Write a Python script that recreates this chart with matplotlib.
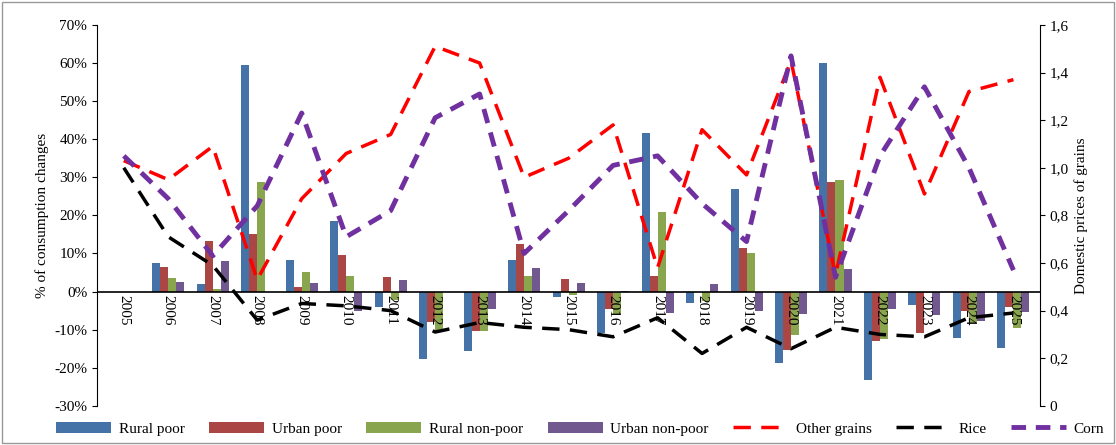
import matplotlib.pyplot as plt
import numpy as np

plt.rcParams['font.family'] = ['Liberation Serif', 'DejaVu Serif']

years = [str(y) for y in range(2005, 2026)]
rural_poor = [0, 7.6, 2, 59.5, 8.2, 18.5, -4, -17.7, -15.6, 8.4, -1.3, -11, 41.5, -3, 27, -18.7, 60, -23.2, -3.5, -12.3, -14.8]
urban_poor = [0, 6.5, 13.3, 15, 1.2, 9.6, 3.8, -8, -10.3, 12.6, 3.3, -4.5, 4.2, 0, 11.4, -15.3, 28.8, -13, -11, -5, -4]
rural_nonpoor = [0, 3.6, 0.8, 28.7, 5.2, 4.1, -2.3, -10.3, -10.3, 4.1, -0.9, -5.8, 21, -2.5, 10, -11.3, 29.4, -12.5, -0.5, -8.3, -9.6]
urban_nonpoor = [0, 2.5, 8, 0, 2.3, -5, 3.1, 0, -4.5, 6.3, 2.3, 0.2, -5.6, 2.1, -5, -6, 5.8, -4.6, -6.2, -7.6, -5.4]
other_grains = [1.03, 0.95, 1.09, 0.53, 0.87, 1.06, 1.14, 1.51, 1.44, 0.96, 1.04, 1.18, 0.58, 1.16, 0.97, 1.45, 0.55, 1.38, 0.89, 1.32, 1.37]
rice = [1.0, 0.71, 0.59, 0.36, 0.43, 0.42, 0.40, 0.31, 0.35, 0.33, 0.32, 0.29, 0.37, 0.22, 0.33, 0.24, 0.33, 0.30, 0.29, 0.37, 0.39]
corn = [1.05, 0.87, 0.63, 0.84, 1.23, 0.71, 0.82, 1.21, 1.31, 0.64, 0.82, 1.01, 1.05, 0.85, 0.69, 1.47, 0.54, 1.05, 1.34, 1.0, 0.57]

fig = plt.figure(figsize=(11.16, 4.45), dpi=100)
ax = fig.add_axes([0.087, 0.088, 0.845, 0.856])
x = np.arange(len(years))
w = 0.18
series = [(rural_poor, '#4572A7', 'Rural poor'), (urban_poor, '#AA4643', 'Urban poor'),
          (rural_nonpoor, '#89A54E', 'Rural non-poor'), (urban_nonpoor, '#71588F', 'Urban non-poor')]
handles = []
for i, (vals, c, lab) in enumerate(series):
    h = ax.bar(x + (i - 1.5) * w, vals, w, color=c, label=lab)
    handles.append(h)
ax.axhline(0, color='black', lw=1.2)
ax.set_ylim(-30, 70)
ax.set_xlim(-0.6, len(years) - 0.4)
ax.set_yticks(range(-30, 71, 10))
ax.set_yticklabels([f'{v}%' for v in range(-30, 71, 10)], fontsize=11)
ax.set_ylabel('% of consumption changes', fontsize=11)
ax.set_xticks([])
for s in ['top', 'right', 'bottom']:
    ax.spines[s].set_visible(False)
for xi, yr in zip(x, years):
    ax.text(xi, -1, yr, rotation=270, ha='center', va='top', fontsize=11)

ax2 = ax.twinx()
l1, = ax2.plot(x, other_grains, color='red', lw=2.5, ls=(0, (5, 3)), label='Other grains')
l2, = ax2.plot(x, rice, color='black', lw=2.5, ls=(0, (5, 3)), label='Rice')
l3, = ax2.plot(x, corn, color='#7030A0', lw=3.5, ls=(0, (3, 2)), label='Corn')
ax2.set_ylim(0, 1.6)
ax2.set_yticks(np.arange(0, 1.61, 0.2))
ax2.set_yticklabels([f'{v:.1f}'.replace('.', ',') if v > 0 else '0' for v in np.arange(0, 1.61, 0.2)], fontsize=11)
ax2.set_ylabel('Domestic prices of grains', fontsize=11)
for s in ['top', 'left', 'bottom']:
    ax2.spines[s].set_visible(False)

fig.legend(handles + [l1, l2, l3], [h.get_label() for h in handles] + ['Other grains', 'Rice', 'Corn'],
           loc='lower center', ncol=7, frameon=False, fontsize=11, bbox_to_anchor=(0.52, -0.01),
           handlelength=3.6, handletextpad=0.5, columnspacing=1.6)
fig.patches.append(plt.Rectangle((0.002, 0.005), 0.996, 0.99, transform=fig.transFigure,
                                 fill=False, edgecolor='#999999', lw=1))
fig.savefig('out.png', dpi=100)
